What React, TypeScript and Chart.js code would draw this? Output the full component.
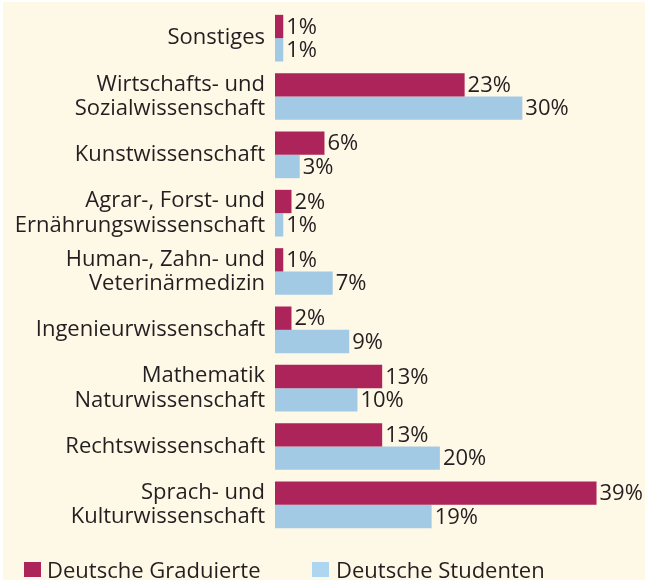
import React, { useEffect, useRef } from "react";
import { Chart, registerables } from "chart.js";

Chart.register(...registerables);

const categories: string[][] = [
  ["Sonstiges"],
  ["Wirtschafts- und", "Sozialwissenschaft"],
  ["Kunstwissenschaft"],
  ["Agrar-, Forst- und", "Ernährungswissenschaft"],
  ["Human-, Zahn- und", "Veterinärmedizin"],
  ["Ingenieurwissenschaft"],
  ["Mathematik", "Naturwissenschaft"],
  ["Rechtswissenschaft"],
  ["Sprach- und", "Kulturwissenschaft"],
];
const graduierte: number[] = [1, 23, 6, 2, 1, 2, 13, 13, 39];
const studenten: number[] = [1, 30, 3, 1, 7, 9, 10, 20, 19];
const seriesNames: string[] = ["Deutsche Graduierte", "Deutsche Studenten"];

const RED = "#AD245B";
const BLUE = "#A3CAE4";
const LEGEND_BLUE = "#AED6F1";
const CREAM = "#FEF8E7";
const TEXT = "#231F20";
const FONT = "'Open Sans', 'Noto Sans', sans-serif";

const labelPlugin = {
  id: "barLabels",
  afterDatasetsDraw(chart: any) {
    const ctx = chart.ctx;
    ctx.save();
    ctx.font = `22px ${FONT}`;
    ctx.fillStyle = TEXT;
    ctx.textAlign = "left";
    ctx.textBaseline = "middle";
    chart.data.datasets.forEach((ds: any, di: number) => {
      const meta = chart.getDatasetMeta(di);
      meta.data.forEach((bar: any, i: number) => {
        ctx.fillText(`${ds.data[i]}%`, bar.x + 3, bar.y + 1);
      });
    });
    ctx.restore();
  },
};

export default function App() {
  const ref = useRef<HTMLCanvasElement | null>(null);
  useEffect(() => {
    document.body.style.margin = "0";
    const chart = new Chart(ref.current as HTMLCanvasElement, {
      type: "bar",
      data: {
        labels: categories,
        datasets: [
          { label: seriesNames[0], data: graduierte, backgroundColor: RED, categoryPercentage: 0.8, barPercentage: 1.0 },
          { label: seriesNames[1], data: studenten, backgroundColor: BLUE, categoryPercentage: 0.8, barPercentage: 1.0 },
        ],
      },
      options: {
        indexAxis: "y",
        animation: false,
        responsive: false,
        layout: { padding: { top: 9, bottom: 46, left: 0, right: 3 } },
        plugins: { legend: { display: false }, tooltip: { enabled: false } },
        scales: {
          x: {
            min: 0,
            max: 45,
            display: false,
            grid: { display: false },
          },
          y: {
            grid: { display: false, drawTicks: false },
            border: { display: false },
            ticks: {
              color: TEXT,
              padding: 10,
              font: { family: FONT, size: 22, lineHeight: 1.1 },
            },
            afterFit(scale: any) {
              scale.width = 272;
              scale.paddingTop = 0;
              scale.paddingBottom = 0;
            },
          },
        },
      },
      plugins: [labelPlugin],
    });
    return () => chart.destroy();
  }, []);

  const legendItem = (color: string, text: string, boxLeft: number, textLeft: number) => (
    <>
      <span style={{ position: "absolute", left: boxLeft, top: 562, width: 17, height: 15, background: color }} />
      <span style={{ position: "absolute", left: textLeft, top: 554, lineHeight: "30px", fontFamily: FONT, fontSize: 22, color: TEXT, whiteSpace: "nowrap" }}>{text}</span>
    </>
  );

  return (
    <div style={{ position: "relative", width: 657, height: 580, background: "#fff", overflow: "hidden" }}>
      <div style={{ position: "absolute", left: 3, top: 2, width: 642, height: 578, background: CREAM }} />
      <canvas ref={ref} width={646} height={580} style={{ position: "absolute", left: 3, top: 0 }} />
      {legendItem(RED, seriesNames[0], 24, 47)}
      {legendItem(LEGEND_BLUE, seriesNames[1], 312, 336)}
    </div>
  );
}
